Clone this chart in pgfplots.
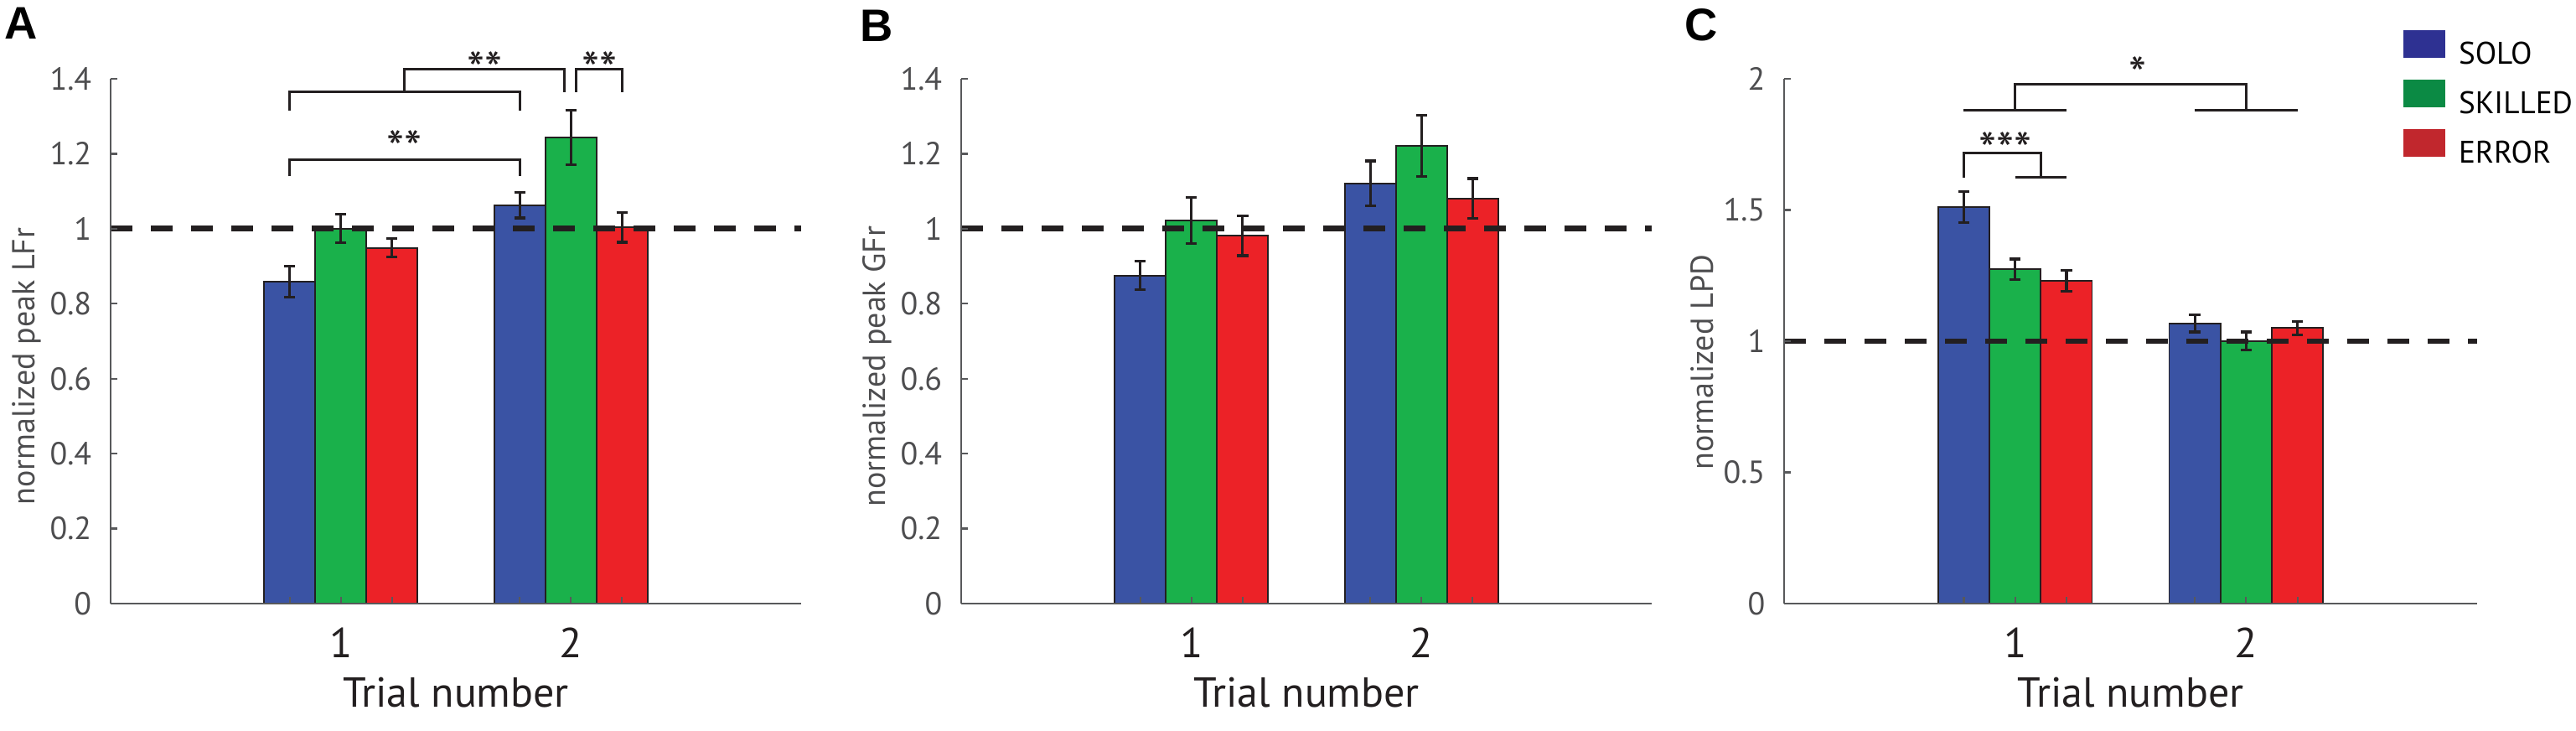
\documentclass[border=0pt]{standalone}
\usepackage{fontspec}
\setmainfont{PT Sans}
\newfontfamily\letterfont{Liberation Sans}
\usepackage{pgfplots}
\usepackage{pgfplotstable}
\pgfplotsset{compat=1.18}
\definecolor{barblue}{HTML}{3A53A4}
\definecolor{bargreen}{HTML}{1AB14B}
\definecolor{barred}{HTML}{EC2227}
\definecolor{legblue}{HTML}{2E3192}
\definecolor{leggreen}{HTML}{0B8A44}
\definecolor{legred}{HTML}{C1272D}
\definecolor{axgray}{HTML}{58595B}
\definecolor{txtgray}{HTML}{4D4D4F}
\definecolor{txtdark}{HTML}{231F20}

% Panel A: normalized peak LFr
\pgfplotstableread{
g v e
1 0.859 0.041
2 1.063 0.034
}\Asolo
\pgfplotstableread{
g v e
1 1.000 0.038
2 1.244 0.073
}\Askilled
\pgfplotstableread{
g v e
1 0.949 0.025
2 1.004 0.040
}\Aerror
% Panel B: normalized peak GFr
\pgfplotstableread{
g v e
1 0.875 0.038
2 1.121 0.060
}\Bsolo
\pgfplotstableread{
g v e
1 1.022 0.062
2 1.221 0.081
}\Bskilled
\pgfplotstableread{
g v e
1 0.981 0.053
2 1.081 0.053
}\Berror
% Panel C: normalized LPD
\pgfplotstableread{
g v e
1 1.511 0.060
2 1.068 0.033
}\Csolo
\pgfplotstableread{
g v e
1 1.274 0.039
2 1.001 0.034
}\Cskilled
\pgfplotstableread{
g v e
1 1.229 0.040
2 1.050 0.025
}\Cerror

\pgfplotsset{
  /pgf/number format/assume math mode=true,
  panel/.style={
    scale only axis, width=206pt, height=156.5pt,
    anchor=south west,
    xmin=0, xmax=3, ymin=0,
    axis x line*=bottom, axis y line*=left,
    axis line style={draw=axgray, line width=0.55pt},
    major tick style={draw=axgray, line width=0.55pt},
    major tick length=2pt, tick align=inside,
    xtick={0.7778,1,1.2222,1.7778,2,2.2222},
    xticklabels={,1,,,2,},
    x tick label style={font=\fontsize{12.5}{14}\selectfont, text=txtdark, anchor=base, inner sep=0pt, yshift=-16pt},
    y tick label style={font=\fontsize{9.5}{11}\selectfont, text=txtgray, anchor=east, inner sep=0pt, xshift=-5.5pt},
    xlabel={Trial number},
    xlabel style={font=\fontsize{12.5}{14}\selectfont, text=txtdark, at={(axis description cs:0.5,0)}, anchor=base, inner sep=0pt, yshift=-30.75pt},
    ylabel style={font=\fontsize{9.5}{11}\selectfont, text=txtgray, at={(axis description cs:-0.1214,0.452)}, anchor=center, inner sep=0pt},
    clip=false, axis on top,
  },
  mybar/.style={ybar, bar width=0.2222, bar shift=0pt, draw=txtdark, line width=0.45pt, fill=#1, forget plot,
    error bars/.cd, y dir=both, y explicit,
    error bar style={line width=0.8pt, draw=txtdark},
    error mark options={rotate=90, mark size=1.7pt, line width=0.8pt, draw=txtdark}},
  refline/.style={draw=txtdark, line width=1.7pt, dash pattern=on 6.5pt off 5.5pt, forget plot},
}
\tikzset{
  brk/.style={draw=txtdark, line width=0.75pt},
  star/.style={font=\fontsize{15}{16}\selectfont, text=txtdark, anchor=base, inner sep=0pt, yshift=-8.6pt},
  plabel/.style={anchor=north west, inner sep=0pt, font=\letterfont\bfseries\fontsize{13.6}{15}\selectfont},
}

\begin{document}
\begin{tikzpicture}
\path[use as bounding box] (0,0) rectangle (768.5pt,217.75pt);

% ---------------- A ----------------
\begin{axis}[panel, at={(33pt,37.75pt)}, ymax=1.4,
  ytick={0,0.2,0.4,0.6,0.8,1,1.2,1.4},
  ylabel={normalized peak LFr}]
\addplot[mybar=barblue]  table[x expr=\thisrow{g}-0.2222, y=v, y error=e] {\Asolo};
\addplot[mybar=bargreen] table[x expr=\thisrow{g}, y=v, y error=e] {\Askilled};
\addplot[mybar=barred]   table[x expr=\thisrow{g}+0.2222, y=v, y error=e] {\Aerror};
\addplot[refline] coordinates {(0,1) (3,1)};
\draw[brk] (axis cs:0.7778,1.140) |- (axis cs:1.7778,1.184) -- (axis cs:1.7778,1.140);
\draw[brk] (axis cs:0.7778,1.316) |- (axis cs:1.7778,1.365) -- (axis cs:1.7778,1.316);
\draw[brk] (axis cs:1.277,1.365) |- (axis cs:1.973,1.426) -- (axis cs:1.973,1.365);
\draw[brk] (axis cs:2.024,1.365) |- (axis cs:2.2222,1.426) -- (axis cs:2.2222,1.365);
\node[star] at (axis cs:1.277,1.243) {**};
\node[star] at (axis cs:1.625,1.453) {**};
\node[star] at (axis cs:2.123,1.453) {**};
\end{axis}

% ---------------- B ----------------
\begin{axis}[panel, at={(286.75pt,37.75pt)}, ymax=1.4,
  ytick={0,0.2,0.4,0.6,0.8,1,1.2,1.4},
  ylabel={normalized peak GFr}]
\addplot[mybar=barblue]  table[x expr=\thisrow{g}-0.2222, y=v, y error=e] {\Bsolo};
\addplot[mybar=bargreen] table[x expr=\thisrow{g}, y=v, y error=e] {\Bskilled};
\addplot[mybar=barred]   table[x expr=\thisrow{g}+0.2222, y=v, y error=e] {\Berror};
\addplot[refline] coordinates {(0,1) (3,1)};
\end{axis}

% ---------------- C ----------------
\begin{axis}[panel, at={(532.25pt,37.75pt)}, width=206.75pt, ymax=2,
  ytick={0,0.5,1,1.5,2},
  ylabel={normalized LPD},
  ylabel style={at={(axis description cs:-0.1185,0.46)}},
  legend image code/.code={\fill[#1] (0pt,-0.6pt) rectangle (12.5pt,7.65pt);},
  legend cell align=left,
  legend style={at={(rel axis cs:0,0)}, anchor=north west, xshift=184.75pt, yshift=171pt,
    draw=none, fill=none, inner sep=0pt, outer sep=0pt, row sep=3pt,
    font=\fontsize{9.3}{10}\selectfont, text=black,
    nodes={inner sep=0pt, outer sep=0pt},
    /tikz/every odd column/.append style={column sep=4pt}},
  legend entries={SOLO,SKILLED,ERROR}]
\addlegendimage{fill=legblue, draw=none}
\addlegendimage{fill=leggreen, draw=none}
\addlegendimage{fill=legred, draw=none}
\addplot[mybar=barblue]  table[x expr=\thisrow{g}-0.2222, y=v, y error=e] {\Csolo};
\addplot[mybar=bargreen] table[x expr=\thisrow{g}, y=v, y error=e] {\Cskilled};
\addplot[mybar=barred]   table[x expr=\thisrow{g}+0.2222, y=v, y error=e] {\Cerror};
\addplot[refline] coordinates {(0,1) (3,1)};
\draw[brk] (axis cs:0.7778,1.624) |- (axis cs:1.111,1.716) -- (axis cs:1.111,1.624);
\draw[brk] (axis cs:1.0,1.624) -- (axis cs:1.2222,1.624);
\draw[brk] (axis cs:0.7778,1.880) -- (axis cs:1.2222,1.880);
\draw[brk] (axis cs:1.7778,1.880) -- (axis cs:2.2222,1.880);
\draw[brk] (axis cs:1,1.880) |- (axis cs:2,1.979) -- (axis cs:2,1.880);
\node[star] at (axis cs:0.958,1.770) {***};
\node[star] at (axis cs:1.53,2.058) {*};
\end{axis}

\node[plabel] at (1.25pt,215.75pt) {A};
\node[plabel] at (256.5pt,215pt) {B};
\node[plabel] at (502.5pt,215.25pt) {C};
\end{tikzpicture}
\end{document}
